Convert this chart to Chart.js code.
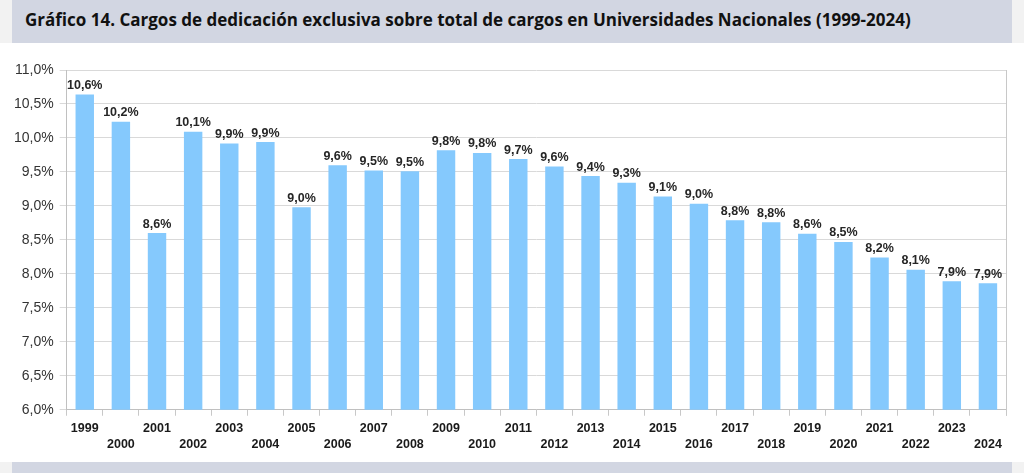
<!DOCTYPE html>
<html lang="es">
<head>
<meta charset="utf-8">
<title>Gráfico 14</title>
<script src="https://cdn.jsdelivr.net/npm/chart.js@4.4.1/dist/chart.umd.min.js"></script>
<style>
  html, body { margin: 0; padding: 0; background: #ffffff; }
  body { width: 1024px; height: 473px; position: relative; overflow: hidden; font-family: "Open Sans", sans-serif; }
  .band { position: absolute; left: 0; width: 1024px; background: #f2f2f2; }
  .band .inner { position: absolute; left: 12px; width: 1000px; top: 0; bottom: 0; background: #d2d6e2; }
  #top { top: 0; height: 43px; }
  #bottom { top: 462px; height: 11px; }
  #title { position: absolute; left: 25px; top: 8px; font-size: 17px; font-weight: 700; color: #111; white-space: nowrap; }
  #wrap { position: absolute; left: 0; top: 43px; width: 1024px; height: 419px; }
</style>
</head>
<body>
<div class="band" id="top"><div class="inner"></div></div>
<div id="title">Gráfico 14. Cargos de dedicación exclusiva sobre total de cargos en Universidades Nacionales (1999-2024)</div>
<div class="band" id="bottom"><div class="inner"></div></div>
<div id="wrap"><canvas id="chart"></canvas></div>
<script>
// Years (categories)
const years = ['1999', '2000', '2001', '2002', '2003', '2004', '2005', '2006', '2007', '2008', '2009', '2010', '2011',
               '2012', '2013', '2014', '2015', '2016', '2017', '2018', '2019', '2020', '2021', '2022', '2023', '2024'];

// Share of exclusive-dedication posts (%)
const shares = [10.64, 10.24, 8.60, 10.09, 9.92, 9.94, 8.98, 9.60, 9.52, 9.51, 9.82, 9.78, 9.69,
                9.58, 9.44, 9.34, 9.14, 9.03, 8.79, 8.76, 8.59, 8.47, 8.24, 8.06, 7.89, 7.86];

// Y axis range / ticks
const yMin = 6.0;
const yMax = 11.0;
const yStep = 0.5;

const fmt = v => v.toFixed(1).replace('.', ',') + '%';

// value labels above each bar
const barLabels = {
    id: 'barLabels',
    afterDatasetsDraw(chart) {
        const ctx = chart.ctx;
        const meta = chart.getDatasetMeta(0);
        ctx.save();
        ctx.font = 'bold 12.5px "Liberation Sans", Arial, sans-serif';
        ctx.fillStyle = '#262626';
        ctx.textAlign = 'center';
        ctx.textBaseline = 'alphabetic';
        meta.data.forEach((bar, i) => {
            ctx.fillText(fmt(shares[i]), bar.x, bar.y - 5.5);
        });
        ctx.restore();
    }
};

// right edge of the plot frame
const frame = {
    id: 'frame',
    afterDraw(chart) {
        const a = chart.chartArea;
        const ctx = chart.ctx;
        ctx.save();
        ctx.strokeStyle = '#c8c8c8';
        ctx.lineWidth = 1;
        ctx.beginPath();
        ctx.moveTo(Math.round(a.right) + 0.5, a.top);
        ctx.lineTo(Math.round(a.right) + 0.5, a.bottom + 6);
        ctx.stroke();
        ctx.restore();
    }
};

const ctx = document.getElementById('chart').getContext('2d');
const chart = new Chart(ctx, {
    type: 'bar',
    data: {
        labels: years,
        datasets: [{
            data: shares,
            backgroundColor: '#85c9fd',
            borderWidth: 0,
            barPercentage: 0.51,
            categoryPercentage: 1.0
        }]
    },
    options: {
        responsive: true,
        maintainAspectRatio: false,
        animation: false,
        layout: {
            padding: { top: 27, right: 18, bottom: 5, left: 8 }
        },
        plugins: {
            legend: { display: false },
            tooltip: { enabled: false }
        },
        scales: {
            x: {
                offset: true,
                grid: {
                    offset: true,
                    drawOnChartArea: false,
                    drawTicks: true,
                    tickLength: 6,
                    color: '#c8c8c8'
                },
                border: { color: '#c0c0c0' },
                ticks: {
                    autoSkip: false,
                    maxRotation: 0,
                    minRotation: 0,
                    padding: 5,
                    color: '#1a1a1a',
                    font: { family: '"Liberation Sans", Arial, sans-serif', size: 12.5, weight: 'bold', lineHeight: 1.25 },
                    callback: function(value, index) {
                        return index % 2 === 0 ? [years[index], ''] : ['', years[index]];
                    }
                }
            },
            y: {
                min: yMin,
                max: yMax,
                grid: {
                    color: '#d9d9d9',
                    drawTicks: true,
                    tickLength: 7
                },
                border: { color: '#c0c0c0' },
                ticks: {
                    stepSize: yStep,
                    padding: 6,
                    color: '#333333',
                    font: { family: '"Liberation Sans", Arial, sans-serif', size: 14 },
                    callback: function(value) {
                        return fmt(value);
                    }
                }
            }
        }
    },
    plugins: [barLabels, frame]
});
</script>
</body>
</html>
